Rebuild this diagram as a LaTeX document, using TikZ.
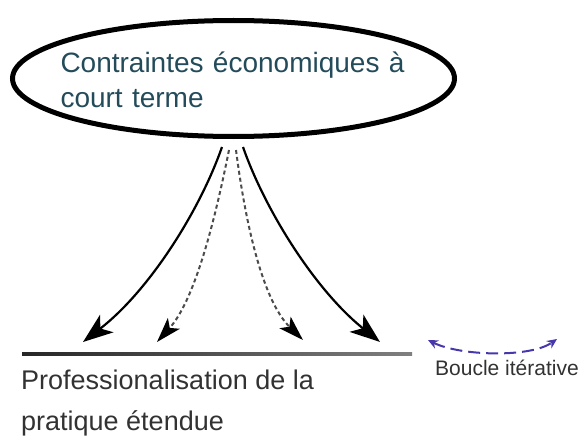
\documentclass[tikz,border=0pt]{standalone}
\usepackage{fontspec}
\setmainfont{Liberation Sans}
\usetikzlibrary{shapes.geometric,arrows.meta}
\definecolor{teal}{RGB}{35,75,90}
\definecolor{loopblue}{RGB}{70,55,170}
\definecolor{darkgr}{RGB}{50,50,50}
\tikzset{
  solidarr/.style={line width=2.2pt, black, -{Stealth[length=30pt,width=22pt,inset=8pt]}},
  dasharr/.style={line width=2pt, black!70, dash pattern=on 4pt off 3pt, -{Stealth[length=25pt,width=16pt,inset=6pt,black]}},
}
\begin{document}
\begin{tikzpicture}[x=1pt,y=-1pt]
\useasboundingbox (0,0) rectangle (579,444);
% top ellipse
\node[draw, ellipse, line width=5pt, minimum width=442pt, minimum height=116pt, inner sep=0pt, outer sep=0pt] (cons) at (233.5,78.5) {};
\node[text width=347pt, align=left, inner sep=0pt, text=teal, font=\fontsize{28}{35}\selectfont, anchor=north] (constext) at (234,52) {Contraintes économiques à\\court terme};
% arrow start and end points
\coordinate (s1) at (222,147);
\coordinate (s2) at (229,150);
\coordinate (s3) at (236,150);
\coordinate (s4) at (243,147);
\coordinate (t1) at (83,342);
\coordinate (t2) at (157,342);
\coordinate (t3) at (303,340);
\coordinate (t4) at (380,342);
\draw[solidarr] (s1) .. controls (200,210) and (150,290) .. (t1);
\draw[dasharr] (s2) .. controls (215,220) and (195,300) .. (t2);
\draw[dasharr] (s3) .. controls (245,220) and (262,300) .. (t3);
\draw[solidarr] (s4) .. controls (265,210) and (315,290) .. (t4);
% base line
\shade[left color=black!85, right color=black!50] (22,352.8) rectangle (412,355.2);
% bottom label
\node[anchor=north west, align=left, inner sep=0pt, text=darkgr, font=\fontsize{27}{41}\selectfont] (prof) at (21,370) {Professionalisation de la\\pratique étendue};
% loop
\coordinate (bl) at (428,340);
\coordinate (br) at (557,339);
\draw[loopblue, line width=2pt, dash pattern=on 12pt off 6pt, {Stealth[length=10pt,width=9pt]}-{Stealth[length=10pt,width=9pt]}] (bl) .. controls (460,356) and (530,358) .. (br);
\node[anchor=base west, inner sep=0pt, text=darkgr, font=\fontsize{21}{24}\selectfont] (loop) at (435,375) {Boucle itérative};
\end{tikzpicture}
\end{document}
